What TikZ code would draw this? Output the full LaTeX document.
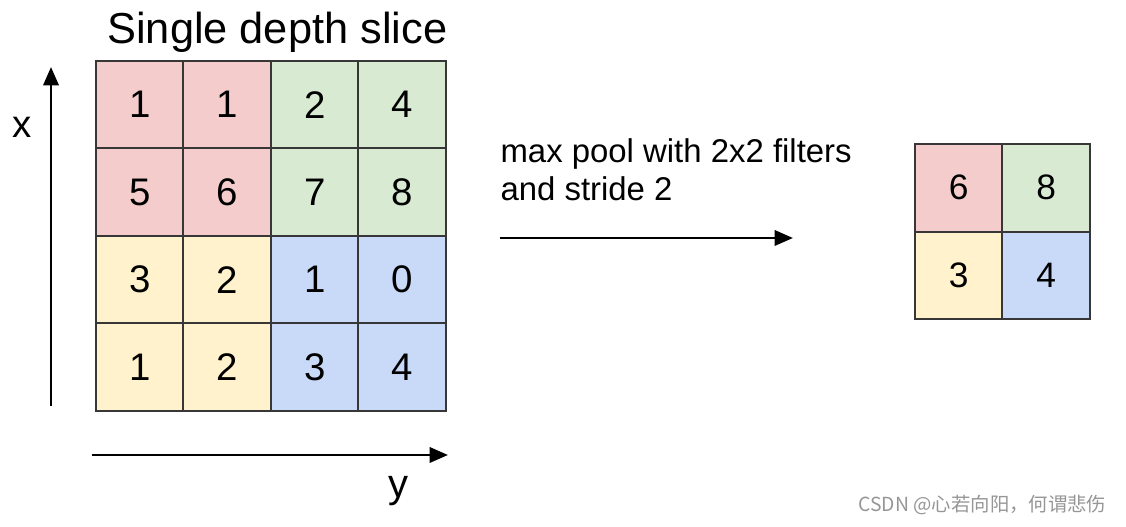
\documentclass[tikz,border=0pt]{standalone}
\usepackage{fontspec}
\setmainfont{Liberation Sans}
\newfontfamily\cjk{Noto Sans CJK SC}
\usetikzlibrary{arrows.meta,positioning}
\definecolor{rose}{HTML}{F4CCCC}
\definecolor{mint}{HTML}{D9EAD3}
\definecolor{cream}{HTML}{FFF2CC}
\definecolor{sky}{HTML}{C9DAF8}
\definecolor{rim}{RGB}{55,55,55}
\definecolor{mark}{RGB}{150,150,150}
\tikzset{
  >={Triangle[length=6pt,width=5pt]},
  cell/.style={draw=rim,fill=#1,line width=0.65pt,minimum size=1cm,inner sep=0pt,
    font=\fontsize{12.5pt}{14pt}\selectfont},
  cell/.default=rose,
  small cell/.style={cell=#1,font=\fontsize{11.5pt}{13pt}\selectfont},
  axis/.style={->,line width=0.85pt,draw=black},
  tag/.style={inner sep=0pt,font=\fontsize{#1}{1.15\dimexpr#1\relax}\selectfont},
}

\begin{document}
\begin{tikzpicture}
  \useasboundingbox (0,0) rectangle (12.869,6.023);
  \node[tag=14.1pt,anchor=base west] (title) at (1.22,5.531) {Single depth slice};
  % input slice
  \foreach \v/\c [count=\i from 0] in {1/rose,1/rose,2/mint,4/mint,5/rose,6/rose,7/mint,8/mint,
      3/cream,2/cream,1/sky,0/sky,1/cream,2/cream,3/sky,4/sky}
    \node[cell=\c] (in-\i) at ({1.597+mod(\i,4)},{4.826-int(\i/4)}) {\v};
  % pooled output
  \foreach \v/\c [count=\i from 0] in {6/rose,8/mint,3/cream,4/sky}
    \node[small cell=\c] (out-\i) at ({10.957+mod(\i,2)},{3.877-int(\i/2)}) {\v};
  % axes
  \coordinate (x-from) at (0.583,1.383);
  \coordinate (x-to) at (0.583,5.257);
  \coordinate (y-from) at (1.051,0.823);
  \coordinate (y-to) at (5.12,0.823);
  \draw[axis] (x-from) -- (x-to);
  \draw[axis] (y-from) -- (y-to);
  \node[tag=12.5pt] (xlab) at (0.251,4.571) {x};
  \node[tag=13pt] (ylab) at (4.549,0.411) {y};
  % pooling step
  \node[tag=10.7pt,anchor=base west,align=left] (pool) at (5.714,3.737)
    {max pool with 2x2 filters\\and stride 2};
  \coordinate (pool-from) at (5.714,3.303);
  \coordinate (pool-to) at (9.063,3.303);
  \draw[axis] (pool-from) -- (pool-to);
  \node[tag=6.3pt,anchor=east,text=mark] (credit) at (12.651,0.251) {\cjk CSDN @心若向阳，何谓悲伤};
\end{tikzpicture}
\end{document}
